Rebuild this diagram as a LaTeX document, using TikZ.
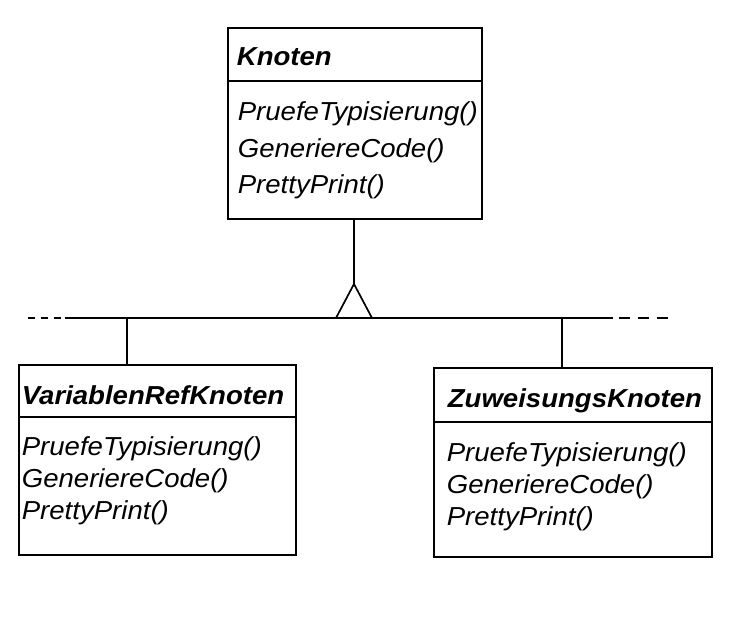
\documentclass[tikz,border=0pt]{standalone}
\usepackage{fontspec}
\setmainfont{Liberation Sans}[FakeStretch=1.06]
\usetikzlibrary{calc}

\begin{document}
\begin{tikzpicture}[x=1pt, y=-1pt, line width=1.7pt,
  classbox/.style={draw, rectangle, inner sep=0pt},
  classname/.style={anchor=base west, inner sep=0pt,
    font=\fontsize{26}{30}\selectfont\bfseries\itshape},
  method/.style={anchor=base west, inner sep=0pt,
    font=\fontsize{26}{30}\selectfont\itshape}]
  \useasboundingbox (0,0) rectangle (734,628);

  % abstract base class
  \node[classbox, minimum width=254pt, minimum height=191pt] (knoten) at (355,123.5) {};
  \draw ($(knoten.north west)+(0,54)$) -- ($(knoten.north east)+(0,54)$);
  \node[classname] (knotenName) at (236,66) {Knoten};
  \node[method] (knotenM1) at (237,121) {PruefeTypisierung()};
  \node[method] (knotenM2) at (237,158) {GeneriereCode()};
  \node[method] (knotenM3) at (237,194) {PrettyPrint()};

  % subclasses
  \node[classbox, minimum width=277pt, minimum height=190pt] (varref) at (157.5,460) {};
  \draw ($(varref.north west)+(0,53)$) -- ($(varref.north east)+(0,53)$);
  \node[classname] (varrefName) at (21,405) {VariablenRefKnoten};
  \node[method] (varrefM1) at (21,455) {PruefeTypisierung()};
  \node[method] (varrefM2) at (21,487) {GeneriereCode()};
  \node[method] (varrefM3) at (21,519) {PrettyPrint()};

  \node[classbox, minimum width=278pt, minimum height=189pt] (zuweis) at (573,462.5) {};
  \draw ($(zuweis.north west)+(0,55)$) -- ($(zuweis.north east)+(0,55)$);
  \node[classname] (zuweisName) at (447,407) {ZuweisungsKnoten};
  \node[method] (zuweisM1) at (446,461) {PruefeTypisierung()};
  \node[method] (zuweisM2) at (446,493) {GeneriereCode()};
  \node[method] (zuweisM3) at (446,525) {PrettyPrint()};

  % inheritance
  \coordinate (tip) at (354,284);
  \draw (knoten.south -| tip) -- (tip);
  \draw (tip) -- ++(-18,34) -- ++(36,0) -- cycle;

  \coordinate (hl) at (65,318);
  \coordinate (hr) at (613,318);
  \coordinate (dl) at (28,318);
  \coordinate (dr) at (670,318);
  \draw (hl) -- (hr);
  \draw[dash pattern=on 7pt off 6pt] (dl) -- (hl);
  \draw[dash pattern=on 11pt off 8pt, dash phase=13pt] (hr) -- (dr);

  \coordinate (jl) at (127,318);
  \coordinate (jr) at (562,318);
  \draw (jl) -- (jl |- varref.north);
  \draw (jr) -- (jr |- zuweis.north);
\end{tikzpicture}
\end{document}
